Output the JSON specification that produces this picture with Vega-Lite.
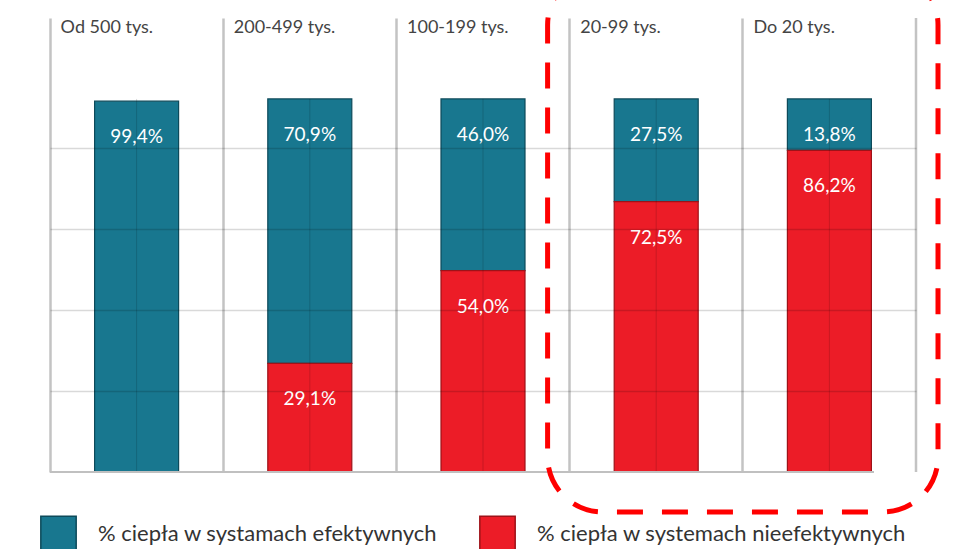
{
  "$schema": "https://vega.github.io/schema/vega-lite/v6.json",
  "width": 866,
  "height": 454,
  "autosize": "none",
  "padding": {"left": 50, "top": 18, "right": 51, "bottom": 77},
  "background": "white",
  "config": {"font": "Lato", "view": {"stroke": null}},
  "datasets": {
    "bars": [
      {"kategoria": "Od 500 tys.", "seria": "% ciepła w systamach efektywnych", "wartosc": 99.4, "etykieta": "99,4%"},
      {"kategoria": "200-499 tys.", "seria": "% ciepła w systamach efektywnych", "wartosc": 70.9, "etykieta": "70,9%"},
      {"kategoria": "200-499 tys.", "seria": "% ciepła w systemach nieefektywnych", "wartosc": 29.1, "etykieta": "29,1%"},
      {"kategoria": "100-199 tys.", "seria": "% ciepła w systamach efektywnych", "wartosc": 46.0, "etykieta": "46,0%"},
      {"kategoria": "100-199 tys.", "seria": "% ciepła w systemach nieefektywnych", "wartosc": 54.0, "etykieta": "54,0%"},
      {"kategoria": "20-99 tys.", "seria": "% ciepła w systamach efektywnych", "wartosc": 27.5, "etykieta": "27,5%"},
      {"kategoria": "20-99 tys.", "seria": "% ciepła w systemach nieefektywnych", "wartosc": 72.5, "etykieta": "72,5%"},
      {"kategoria": "Do 20 tys.", "seria": "% ciepła w systamach efektywnych", "wartosc": 13.8, "etykieta": "13,8%"},
      {"kategoria": "Do 20 tys.", "seria": "% ciepła w systemach nieefektywnych", "wartosc": 86.2, "etykieta": "86,2%"}
    ],
    "kategorie": [
      {"kategoria": "Od 500 tys."},
      {"kategoria": "200-499 tys."},
      {"kategoria": "100-199 tys."},
      {"kategoria": "20-99 tys."},
      {"kategoria": "Do 20 tys."}
    ],
    "wyroznienie": [
      {"od": "20-99 tys.", "do": "Do 20 tys."}
    ]
  },
  "layer": [
    {
      "data": {"name": "bars"},
      "mark": {"type": "bar", "width": {"band": 0.485}, "strokeWidth": 1.2},
      "encoding": {
        "x": {
          "field": "kategoria", "type": "nominal",
          "scale": {"domain": ["Od 500 tys.", "200-499 tys.", "100-199 tys.", "20-99 tys.", "Do 20 tys."], "paddingInner": 0, "paddingOuter": 0},
          "axis": {"orient": "top", "bandPosition": 0, "grid": true, "gridColor": "#c3c3c3", "gridWidth": 2.5, "domain": false, "ticks": false, "tickSize": 0, "labelAlign": "left", "labelBaseline": "middle", "labelPadding": -9, "labelOffset": -76, "labelFontSize": 18, "labelColor": "#444444", "labelFont": "Lato", "labelAngle": 0, "labelOverlap": false, "labelBound": false, "title": null, "zindex": 0}
        },
        "y": {
          "field": "wartosc", "type": "quantitative", "stack": "zero",
          "scale": {"domain": [0, 121.7], "nice": false},
          "axis": {"values": [21.7, 43.4, 65.1, 86.8], "grid": true, "gridColor": "#000000", "gridOpacity": 0.15, "gridWidth": 1.5, "domain": false, "ticks": false, "labels": false, "title": null, "zindex": 1}
        },
        "color": {
          "field": "seria", "type": "nominal",
          "scale": {"domain": ["% ciepła w systamach efektywnych", "% ciepła w systemach nieefektywnych"], "range": ["#18778f", "#ec1c27"]},
          "legend": {"orient": "none", "legendX": -10, "legendY": 497, "direction": "horizontal", "title": null, "symbolType": "square", "symbolSize": 1250, "symbolStrokeWidth": 1.5, "symbolOpacity": 1, "labelFontSize": 22, "labelColor": "#333333", "labelFont": "Lato", "labelOffset": 21, "columnPadding": 38, "labelLimit": 600}
        },
        "stroke": {
          "field": "seria", "type": "nominal",
          "scale": {"domain": ["% ciepła w systamach efektywnych", "% ciepła w systemach nieefektywnych"], "range": ["#0d4a5a", "#9e1218"]},
          "legend": {"orient": "none", "legendX": -10, "legendY": 497, "direction": "horizontal", "title": null, "symbolType": "square", "symbolSize": 1250, "symbolStrokeWidth": 1.5, "symbolOpacity": 1, "labelFontSize": 22, "labelColor": "#333333", "labelFont": "Lato", "labelOffset": 21, "columnPadding": 38, "labelLimit": 600}
        },
        "order": {"field": "seria", "sort": "descending"}
      }
    },
    {
      "data": {"name": "kategorie"},
      "mark": {"type": "rule", "color": "#000000", "opacity": 0.15, "strokeWidth": 1},
      "encoding": {
        "x": {"field": "kategoria", "type": "nominal"},
        "y": {"datum": 0},
        "y2": {"datum": 100}
      }
    },
    {
      "data": {"name": "bars"},
      "mark": {"type": "text", "color": "white", "fontSize": 19, "font": "Lato", "dy": 36, "baseline": "middle", "align": "center"},
      "encoding": {
        "x": {"field": "kategoria", "type": "nominal"},
        "y": {"field": "wartosc", "type": "quantitative", "stack": "zero"},
        "detail": {"field": "seria"},
        "order": {"field": "seria", "sort": "descending"},
        "text": {"field": "etykieta"}
      }
    },
    {
      "data": {"name": "wyroznienie"},
      "mark": {"type": "rule", "color": "#c0c0c0", "strokeWidth": 2, "xOffset": -42, "x2Offset": 51},
      "encoding": {
        "y": {"datum": 0}
      }
    },
    {
      "data": {"name": "wyroznienie"},
      "mark": {"type": "rule", "color": "#c3c3c3", "strokeWidth": 2.5},
      "encoding": {
        "x": {"field": "do", "type": "nominal", "bandPosition": 1},
        "y": {"datum": 0},
        "y2": {"datum": 121.7}
      }
    },
    {
      "data": {"name": "wyroznienie"},
      "mark": {"type": "rect", "fill": "transparent", "fillOpacity": 0, "stroke": "#ff0000", "strokeWidth": 5, "strokeDash": [26, 19], "cornerRadius": 55, "xOffset": -22, "x2Offset": 22, "clip": false},
      "encoding": {
        "x": {"field": "od", "type": "nominal", "bandPosition": 0},
        "x2": {"field": "do", "bandPosition": 1},
        "y": {"datum": -10.7},
        "y2": {"datum": 134.6}
      }
    }
  ]
}
